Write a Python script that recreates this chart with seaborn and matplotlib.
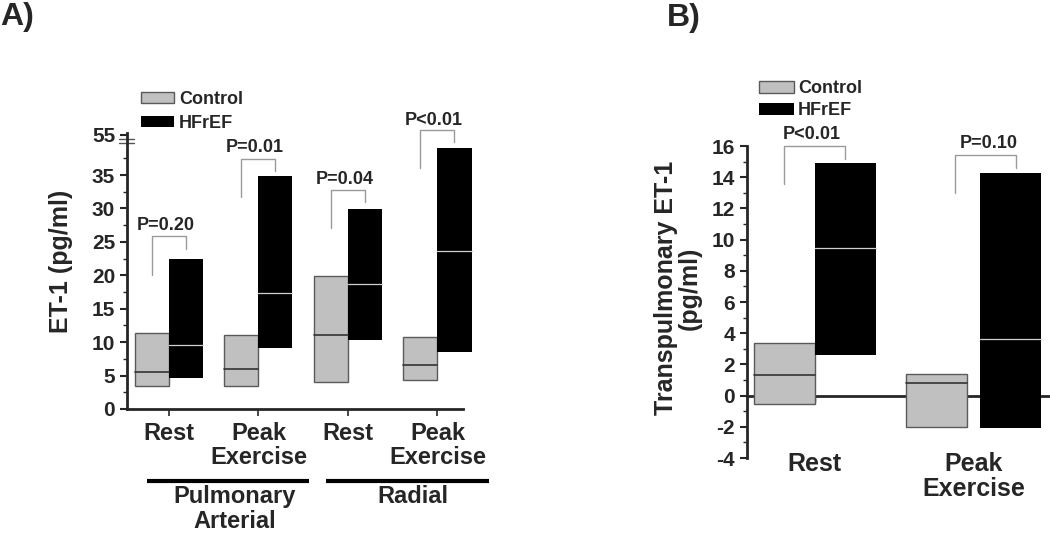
import numpy as np
import pandas as pd
import matplotlib
matplotlib.use("Agg")
import matplotlib.pyplot as plt
import matplotlib.transforms as mtransforms
import seaborn as sns

# ---------------- data ----------------
groups = ["Control", "HFrEF"]

# Panel A
a_conditions = ["PA Rest", "PA Peak", "Radial Rest", "Radial Peak"]
a_tick_labels = ["Rest", "Peak\nExercise", "Rest", "Peak\nExercise"]
a_sites = ["Pulmonary\nArterial", "Radial"]
a_ctrl_low = [3.4, 3.5, 4.0, 4.4]
a_ctrl_high = [11.4, 11.1, 19.85, 10.7]
a_ctrl_med = [5.5, 6.0, 11.0, 6.6]
a_hf_low = [4.6, 9.1, 10.35, 8.6]
a_hf_high = [22.5, 34.9, 29.9, 39.1]
a_hf_med = [9.5, 17.4, 18.75, 23.7]
a_pvals = ["P=0.20", "P=0.01", "P=0.04", "P<0.01"]
a_br_left = [20.0, 31.75, 27.0, 36.0]
a_br_right = [24.0, 35.6, 31.0, 40.0]
a_br_top = [25.9, 37.4, 32.8, 41.7]
a_p_y = [27.4, 39.1, 34.4, 43.2]
a_yticks = [0, 5, 10, 15, 20, 25, 30, 35, 41.0]
a_yticklabels = ["0", "5", "10", "15", "20", "25", "30", "35", "55"]
a_break_y = [39.8, 40.4]

# Panel B
b_conditions = ["Rest", "Peak Exercise"]
b_tick_labels = ["Rest", "Peak\nExercise"]
b_ctrl_low = [-0.55, -2.0]
b_ctrl_high = [3.36, 1.39]
b_ctrl_med = [1.33, 0.81]
b_hf_low = [2.59, -2.05]
b_hf_high = [14.92, 14.3]
b_hf_med = [9.47, 3.65]
b_pvals = ["P<0.01", "P=0.10"]
b_br_left = [13.57, 12.97]
b_br_right = [15.19, 14.6]
b_br_top = [16.0, 15.45]
b_p_y = [16.71, 16.15]
b_yticks = [-4, -2, 0, 2, 4, 6, 8, 10, 12, 14, 16]

# ---------------- style ----------------
sns.set_style("ticks")
plt.rcParams["font.family"] = ["Liberation Sans", "DejaVu Sans"]
plt.rcParams["font.weight"] = "bold"

palette = {"Control": "#c0c0c0", "HFrEF": "#000000"}
edges = {"Control": "#5a5a5a", "HFrEF": "#000000"}
med_colors = {"Control": "#333333", "HFrEF": "#d0d0d0"}
bracket_color = "#9a9a9a"

fig = plt.figure(figsize=(10.5, 5.35), dpi=100)
W, H = 1050, 535


def px_axes(l, t, r, b):
    return fig.add_axes([l / W, 1 - b / H, (r - l) / W, (b - t) / H])


def floating_bars(ax, conditions, lows, highs, meds, width, extra_gap):
    rows = []
    for g, lo, hi in zip(groups, lows, highs):
        for c, l, h in zip(conditions, lo, hi):
            rows.append({"condition": c, "group": g, "span": h - l})
    df = pd.DataFrame(rows)
    sns.barplot(data=df, x="condition", y="span", hue="group",
                order=conditions, hue_order=groups, palette=palette,
                width=width, errorbar=None, legend=False, saturation=1, ax=ax)
    centers = []
    for k, (cont, lo, md, g) in enumerate(zip(ax.containers, lows, meds, groups)):
        sign = -1 if k == 0 else 1
        cs = []
        for i, (bar, l, m) in enumerate(zip(cont, lo, md)):
            bar.set_y(l)
            bar.set_x(bar.get_x() + sign * extra_gap[i] / 2)
            bar.set_clip_on(False)
            bar.set_edgecolor(edges[g])
            bar.set_linewidth(1.0 if g == "Control" else 0.0)
            x0 = bar.get_x()
            x1 = x0 + bar.get_width()
            ax.plot([x0, x1], [m, m], color=med_colors[g],
                    lw=1.2 if g == "Control" else 0.9, zorder=5, clip_on=False)
            cs.append(x0 + bar.get_width() / 2)
        centers.append(cs)
    return centers


def brackets(ax, cl, cr, bl, br, bt, labels, ty, tx_off, fs, shifts):
    for i in range(len(labels)):
        xl = cl[i] + shifts[i][0]
        xr = cr[i] + shifts[i][1]
        ax.plot([xl, xl, xr, xr], [bl[i], bt[i], bt[i], br[i]],
                color=bracket_color, lw=1.0, clip_on=False, zorder=6)
        ax.text((xl + xr) / 2 + tx_off[i], ty[i], labels[i], ha="center",
                va="center", fontsize=fs, fontweight="bold", clip_on=False)


# ================= Panel A =================
axA = px_axes(127, 132.9, 463, 409)
cA = floating_bars(axA, a_conditions, [a_ctrl_low, a_hf_low],
                   [a_ctrl_high, a_hf_high], [a_ctrl_med, a_hf_med],
                   0.76, [0, 0, 0, 0])
axA.set_xlim(-0.469, 3.285)
axA.set_ylim(0, 41.3)
axA.set_yticks(a_yticks)
axA.set_yticklabels(a_yticklabels, fontsize=15, fontweight="bold")
axA.set_yticks(np.arange(2.5, 40, 5), minor=True)
axA.set_xticks(range(len(a_conditions)))
axA.set_xticklabels(a_tick_labels, fontsize=17, fontweight="bold", va="top",
                    linespacing=1.1)
axA.tick_params(axis="y", which="major", length=5, width=1.5, pad=3.5)
axA.tick_params(axis="y", which="minor", length=3, width=1)
axA.tick_params(axis="x", which="major", length=5, width=1.2, pad=4)
for s in ["top", "right"]:
    axA.spines[s].set_visible(False)
for s in ["left", "bottom"]:
    axA.spines[s].set_linewidth(2)
axA.set_xlabel("")
axA.set_ylabel("ET-1 (pg/ml)", fontsize=18, fontweight="bold")
axA.yaxis.set_label_coords(-0.161, 0.536)

# axis break marks
tr = mtransforms.blended_transform_factory(axA.transAxes, axA.transData)
for yb in a_break_y:
    axA.plot([-0.024, 0.021], [yb, yb], color="#555555", lw=1.0,
             transform=tr, clip_on=False)

brackets(axA, cA[0], cA[1], a_br_left, a_br_right, a_br_top, a_pvals,
         a_p_y, [-0.04] * 4, 13, [(0, 0)] * 4)

# site group lines and labels
trx = mtransforms.blended_transform_factory(axA.transData, axA.transAxes)
for j, site in enumerate(a_sites):
    gc = 2 * j + 0.5
    x0, x1 = gc - 0.75, gc + 1.07
    axA.plot([x0, x1], [-0.2597, -0.2597], color="black", lw=3,
             transform=trx, clip_on=False, solid_capstyle="butt")
    axA.text((x0 + x1) / 2 + 0.07, -0.276, site, transform=trx, ha="center",
             va="top", fontsize=17, fontweight="bold", linespacing=1.1)

legA = axA.legend(handles=list(axA.containers), labels=groups,
                  loc="upper left", bbox_to_anchor=(141 / W, 1 - 91 / H),
                  bbox_transform=fig.transFigure, frameon=False, borderpad=0,
                  borderaxespad=0, handlelength=1.85, handleheight=0.6,
                  handletextpad=0.25, labelspacing=0.38,
                  prop={"size": 13, "weight": "bold"})

# ================= Panel B =================
axB = px_axes(747, 146, 1050, 458)
cB = floating_bars(axB, b_conditions, [b_ctrl_low, b_hf_low],
                   [b_ctrl_high, b_hf_high], [b_ctrl_med, b_hf_med],
                   0.768, [0, 0.08])
axB.set_xlim(-0.425, 1.48)
axB.set_ylim(-4, 16)
axB.set_yticks(b_yticks)
axB.set_yticklabels([str(v) for v in b_yticks], fontsize=15, fontweight="bold")
axB.set_yticks(np.arange(-3, 16, 2), minor=True)
axB.tick_params(axis="y", which="major", length=5, width=1.5, pad=3.5)
axB.tick_params(axis="y", which="minor", length=3, width=1)
axB.set_xticks(range(len(b_conditions)))
axB.set_xticklabels(b_tick_labels, fontsize=18, fontweight="bold", va="top",
                    linespacing=1.05)
axB.tick_params(axis="x", length=0, pad=-4.0)
for s in ["top", "right", "bottom"]:
    axB.spines[s].set_visible(False)
axB.spines["left"].set_linewidth(2)
axB.set_xlabel("")
axB.set_ylabel("Transpulmonary ET-1\n(pg/ml)", fontsize=18, fontweight="bold",
               linespacing=1.0)
axB.yaxis.set_label_coords(-0.1485, 0.545)

zero = axB.secondary_xaxis((0 - (-4)) / 20)
zero.set_xticks([0, 0.767])
zero.set_xticklabels([])
zero.tick_params(length=4, width=1, direction="out")
zero.spines["bottom"].set_linewidth(2)

brackets(axB, cB[0], cB[1], b_br_left, b_br_right, b_br_top, b_pvals,
         b_p_y, [-0.02, 0.02], 13, [(0, 0), (0.115, 0.035)])

legB = axB.legend(handles=list(axB.containers), labels=groups,
                  loc="upper left", bbox_to_anchor=(759 / W, 1 - 80 / H),
                  bbox_transform=fig.transFigure, frameon=False, borderpad=0,
                  borderaxespad=0, handlelength=1.95, handleheight=0.66,
                  handletextpad=0.22, labelspacing=0.28,
                  prop={"size": 13, "weight": "bold"})

# panel letters
fig.text(0.0, 1 - 25 / H, "A)", ha="left", va="baseline", fontsize=23,
         fontweight="bold")
fig.text(667 / W, 1 - 26 / H, "B)", ha="left", va="baseline", fontsize=23,
         fontweight="bold")

fig.savefig("out.png", dpi=100)
